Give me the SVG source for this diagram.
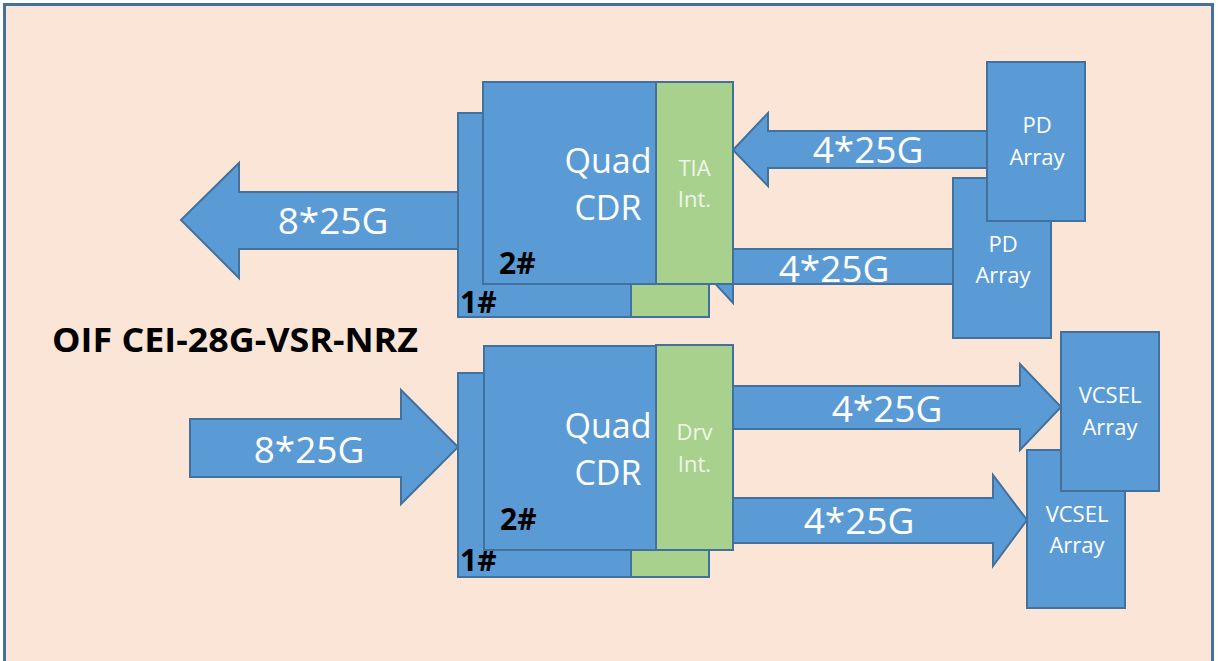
<svg xmlns="http://www.w3.org/2000/svg" width="1220" height="661" viewBox="0 0 1220 661">
<style>
.bg{fill:#fbe5d6;stroke:#41719c;stroke-width:3}
.blk{fill:#5b9bd5;stroke:#41719c;stroke-width:2}
.grn{fill:#a9d18e;stroke:#41719c;stroke-width:2}
.arr{fill:#5b9bd5;stroke:#41719c;stroke-width:2;stroke-linejoin:miter}
.big{font-family:"Open Sans","Liberation Sans",sans-serif;font-size:37px;fill:#ffffff;text-anchor:middle}
.chip{font-family:"Open Sans","Liberation Sans",sans-serif;font-size:34px;fill:#ffffff;text-anchor:middle}
.sm{font-family:"Open Sans","Liberation Sans",sans-serif;font-size:22px;fill:#ffffff;text-anchor:middle}
.gt{font-family:"Open Sans","Liberation Sans",sans-serif;font-size:22px;fill:#eef6e8;text-anchor:middle}
.num{font-family:"Open Sans","Liberation Sans",sans-serif;font-size:30px;font-weight:bold;fill:#000000}
.ttl{font-family:"Open Sans","Liberation Sans",sans-serif;font-size:34px;font-weight:bold;fill:#000000}
</style>
<rect x="0" y="0" width="1220" height="661" fill="#ffffff"/>
<rect class="bg" x="4.5" y="4.5" width="1208" height="680"/>
<text class="ttl" x="52" y="352" textLength="366" lengthAdjust="spacingAndGlyphs">OIF CEI-28G-VSR-NRZ</text>
<g id="connectors">
  <polygon class="arr" points="181,220 239,163 239,192 470,192 470,249 239,249 239,278"/>
  <text class="big" x="333" y="234">8*25G</text>
  <polygon class="arr" points="190,419 401,419 401,390 458,447 401,504 401,477 190,477"/>
  <text class="big" x="309" y="463">8*25G</text>
  <polygon class="arr" points="733,150 768,113 768,131 990,131 990,168 768,168 768,186"/>
  <text class="big" x="868" y="163">4*25G</text>
  <polygon class="arr" points="699,266 733,230 733,249 955,249 955,284 733,284 733,303"/>
  <text class="big" x="834" y="282">4*25G</text>
  <polygon class="arr" points="730,386 1020,386 1020,364 1061,407 1020,450 1020,429 730,429"/>
  <text class="big" x="887" y="422">4*25G</text>
  <polygon class="arr" points="730,498 993,498 993,475 1027,520 993,566 993,543 730,543"/>
  <text class="big" x="859" y="534">4*25G</text>
</g>
<g id="rx-cdr-1">
  <rect class="blk" x="458" y="113" width="251" height="204"/>
  <rect class="grn" x="631" y="113" width="78" height="204"/>
  <text class="num" x="460" y="313">1#</text>
</g>
<g id="rx-cdr-2">
  <rect class="blk" x="483" y="82" width="250" height="202"/>
  <rect class="grn" x="656" y="82" width="77" height="202"/>
  <text class="chip" x="608" y="173">Quad</text>
  <text class="chip" x="608" y="220">CDR</text>
  <text class="gt" x="694.5" y="176">TIA</text>
  <text class="gt" x="694.5" y="207">Int.</text>
  <text class="num" x="499" y="274">2#</text>
</g>
<g id="tx-cdr-1">
  <rect class="blk" x="458" y="373" width="251" height="204"/>
  <rect class="grn" x="631" y="373" width="78" height="204"/>
  <text class="num" x="460" y="571">1#</text>
</g>
<g id="tx-cdr-2">
  <rect class="blk" x="484" y="346" width="249" height="204"/>
  <rect class="grn" x="656" y="345" width="77" height="205"/>
  <text class="chip" x="608" y="438">Quad</text>
  <text class="chip" x="608" y="485">CDR</text>
  <text class="gt" x="694.5" y="440">Drv</text>
  <text class="gt" x="694.5" y="472">Int.</text>
  <text class="num" x="500" y="530">2#</text>
</g>
<g id="pd-array-2">
  <rect class="blk" x="953" y="178" width="98" height="160"/>
  <text class="sm" x="1003" y="252">PD</text>
  <text class="sm" x="1003" y="283">Array</text>
</g>
<g id="pd-array-1">
  <rect class="blk" x="987" y="62" width="98" height="159"/>
  <text class="sm" x="1037" y="133">PD</text>
  <text class="sm" x="1037" y="165">Array</text>
</g>
<g id="vcsel-array-2">
  <rect class="blk" x="1027" y="450" width="98" height="158"/>
  <text class="sm" x="1077" y="522">VCSEL</text>
  <text class="sm" x="1077" y="553">Array</text>
</g>
<g id="vcsel-array-1">
  <rect class="blk" x="1061" y="332" width="98" height="159"/>
  <text class="sm" x="1110" y="403">VCSEL</text>
  <text class="sm" x="1110" y="435">Array</text>
</g>
</svg>
